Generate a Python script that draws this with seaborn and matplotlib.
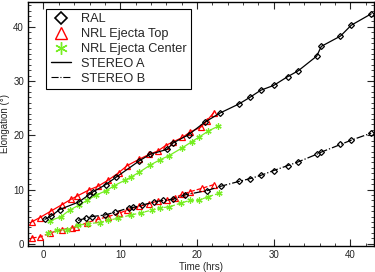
import matplotlib
matplotlib.use("Agg")
import matplotlib.pyplot as plt
from matplotlib.lines import Line2D
from matplotlib.ticker import MultipleLocator
import pandas as pd
import seaborn as sns

# STEREO A - RAL
ral_a_t = [0.2, 1.0, 2.1, 4.6, 5.9, 6.5, 8.1, 9.5, 12.5, 13.9, 16.1, 16.9, 18.9, 21.0,
           23.0, 25.5, 26.9, 28.3, 30.0, 31.8, 33.2, 35.6, 36.2, 38.7, 40.1, 42.7]
ral_a_e = [4.5, 5.1, 6.3, 7.7, 9.0, 9.6, 10.9, 12.3, 15.3, 16.5, 17.4, 18.6, 20.1, 22.4,
           24.1, 25.8, 27.0, 28.3, 29.2, 30.8, 31.9, 34.6, 36.4, 38.3, 40.3, 42.4]
# STEREO A - NRL ejecta top
top_a_t = [-1.5, -0.5, 0.95, 2.4, 3.6, 4.4, 5.9, 7.1, 8.4, 9.8, 10.9, 12.5, 13.8, 14.9,
           15.9, 16.9, 18.1, 19.1, 20.5, 21.3, 22.2]
top_a_e = [4.05, 4.8, 6.0, 7.2, 8.2, 8.8, 9.9, 10.6, 11.7, 13.1, 14.4, 15.6, 16.5, 17.1,
           18.1, 18.8, 19.6, 20.6, 21.5, 22.7, 24.2]
# STEREO A - NRL ejecta center
cen_a_t = [0.8, 2.3, 3.4, 4.6, 5.7, 6.9, 8.2, 9.2, 10.6, 11.4, 12.5, 13.9, 15.2, 16.3,
           18.1, 19.3, 20.2, 21.5, 22.8]
cen_a_e = [4.2, 5.0, 6.2, 7.1, 8.0, 9.0, 9.8, 10.7, 11.7, 12.3, 13.2, 14.5, 15.5, 16.2,
           17.7, 18.8, 19.6, 20.8, 21.7]
# STEREO B - RAL
ral_b_t = [4.5, 5.5, 6.3, 8.0, 9.3, 11.1, 11.7, 12.8, 14.4, 15.6, 16.9, 18.4, 21.3, 23.1,
           25.5, 26.9, 28.3, 30.0, 31.8, 33.2, 35.6, 36.2, 38.7, 40.1, 42.7]
ral_b_e = [4.3, 4.7, 5.0, 5.3, 5.8, 6.6, 6.7, 7.1, 7.7, 8.0, 8.2, 9.0, 9.8, 10.6,
           11.5, 12.0, 12.6, 13.5, 14.4, 15.1, 16.5, 16.9, 18.3, 19.1, 20.4]
# STEREO B - NRL ejecta top
top_b_t = [-1.5, -0.5, 0.9, 2.4, 3.7, 4.3, 5.7, 7.1, 8.4, 9.8, 10.9, 12.5, 13.8, 14.9,
           16.1, 17.1, 18.1, 19.1, 20.6, 22.2]
top_b_e = [1.1, 1.2, 2.0, 2.6, 2.9, 3.1, 3.9, 4.5, 5.0, 5.6, 6.2, 6.9, 7.4, 7.9,
           8.0, 8.5, 9.1, 9.6, 10.2, 10.9]
# STEREO B - NRL ejecta center
cen_b_t = [0.6, 1.8, 3.1, 4.5, 5.8, 7.3, 8.4, 9.7, 11.4, 12.7, 14.1, 15.2, 16.4, 17.9,
           19.1, 20.2, 21.5, 22.9]
cen_b_e = [1.9, 2.5, 2.6, 3.4, 3.7, 3.9, 4.3, 4.7, 5.3, 5.7, 6.2, 6.6, 6.8, 7.5,
           8.0, 8.0, 8.7, 9.3]

sns.set_style("ticks")
plt.rcParams['font.family'] = ['Liberation Sans', 'DejaVu Sans']

fig = plt.figure(figsize=(3.75, 2.72), dpi=100)
ax = fig.add_axes([0.075, 0.096, 0.921, 0.897])

green = '#77ee22'
asterisk = (6, 2, 0)

series = [
    (top_a_t, top_a_e, 'red', '^', '-', 4.0),
    (cen_a_t, cen_a_e, green, asterisk, '-', 4.5),
    (ral_a_t, ral_a_e, 'black', 'D', '-', 3.0),
    (top_b_t, top_b_e, 'red', '^', '--', 4.0),
    (cen_b_t, cen_b_e, green, asterisk, '--', 4.5),
    (ral_b_t, ral_b_e, 'black', 'D', '-.', 3.0),
]
for t, e, c, m, ls, ms in series:
    df = pd.DataFrame({'t': t, 'e': e})
    sns.lineplot(data=df, x='t', y='e', ax=ax, color=c, marker=m, linestyle=ls,
                 markersize=ms, markerfacecolor='none', markeredgecolor=c,
                 markeredgewidth=0.9, linewidth=0.9, sort=False, estimator=None)

ax.set_xlim(-2, 43)
ax.set_ylim(-0.4, 44.6)
ax.xaxis.set_major_locator(MultipleLocator(10))
ax.xaxis.set_minor_locator(MultipleLocator(2))
ax.yaxis.set_major_locator(MultipleLocator(10))
ax.yaxis.set_minor_locator(MultipleLocator(1))
ax.tick_params(which='both', direction='in', top=True, right=True, labelsize=7, pad=3)
ax.tick_params(which='major', length=5, width=0.8)
ax.tick_params(which='minor', length=2.5, width=0.6)
for s in ax.spines.values():
    s.set_linewidth(1.0)
    s.set_color('black')
ax.set_xlabel('Time (hrs)', fontsize=7, labelpad=1)
ax.set_ylabel('Elongation (°)', fontsize=7, labelpad=2)
ax.xaxis.set_label_coords(0.5, -0.065)

handles = [
    Line2D([], [], color='black', marker='D', linestyle='none', markersize=6,
           markerfacecolor='none', markeredgewidth=1.2),
    Line2D([], [], color='red', marker='^', linestyle='none', markersize=8,
           markerfacecolor='none', markeredgewidth=1.0),
    Line2D([], [], color=green, marker=asterisk, linestyle='none', markersize=9,
           markeredgewidth=1.0),
    Line2D([], [], color='black', linestyle='-', linewidth=1.0),
    Line2D([], [], color='black', linestyle='-.', linewidth=0.8),
]
labels = ['RAL', 'NRL Ejecta Top', 'NRL Ejecta Center', 'STEREO A', 'STEREO B']
leg = ax.legend(handles, labels, loc='upper left', bbox_to_anchor=(0.052, 0.971),
                borderaxespad=0, fontsize=9.2, fancybox=False, framealpha=1,
                edgecolor='black', handlelength=1.6, handletextpad=0.8,
                labelspacing=0.22, borderpad=0.35)
leg.get_frame().set_linewidth(0.8)

fig.savefig('out.png', dpi=100)
